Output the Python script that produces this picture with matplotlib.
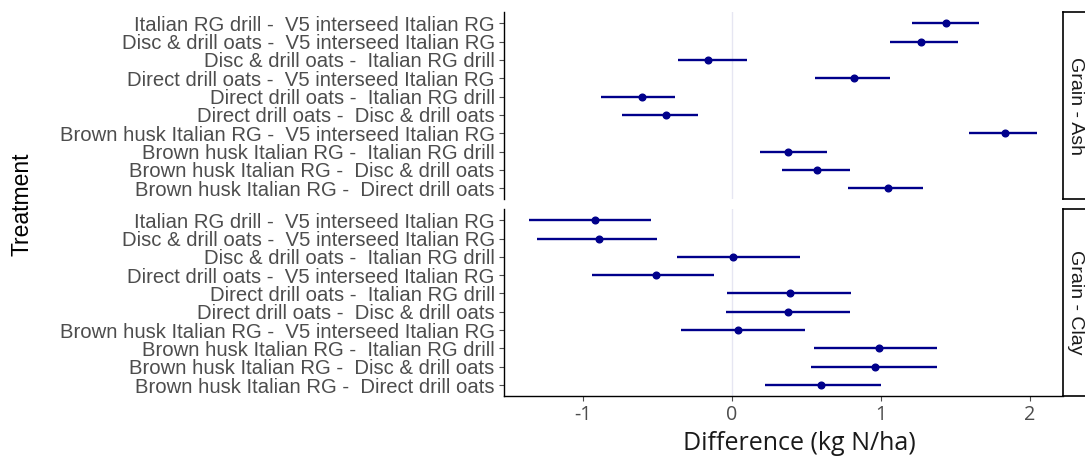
import matplotlib.pyplot as plt
import numpy as np

# treatment contrasts, top row first
contrasts = [
    'Italian RG drill -  V5 interseed Italian RG',
    'Disc & drill oats -  V5 interseed Italian RG',
    'Disc & drill oats -  Italian RG drill',
    'Direct drill oats -  V5 interseed Italian RG',
    'Direct drill oats -  Italian RG drill',
    'Direct drill oats -  Disc & drill oats',
    'Brown husk Italian RG -  V5 interseed Italian RG',
    'Brown husk Italian RG -  Italian RG drill',
    'Brown husk Italian RG -  Disc & drill oats',
    'Brown husk Italian RG -  Direct drill oats',
]

facets = ['Grain - Ash', 'Grain - Clay']

ash_diff = [1.44, 1.27, -0.16, 0.82, -0.60, -0.44, 1.83, 0.38, 0.57, 1.05]
ash_lower = [1.21, 1.06, -0.36, 0.56, -0.88, -0.74, 1.59, 0.19, 0.34, 0.78]
ash_upper = [1.66, 1.52, 0.10, 1.06, -0.38, -0.23, 2.05, 0.64, 0.79, 1.28]

clay_diff = [-0.92, -0.89, 0.01, -0.51, 0.39, 0.38, 0.04, 0.99, 0.96, 0.60]
clay_lower = [-1.36, -1.31, -0.37, -0.94, -0.03, -0.04, -0.34, 0.55, 0.53, 0.22]
clay_upper = [-0.54, -0.50, 0.46, -0.12, 0.80, 0.79, 0.49, 1.38, 1.38, 1.00]

x_ticks = [-1, 0, 1, 2]

W, H = 1085, 459
GREY = '#4D4D4D'
NAVY = '#00008B'


def px_rect(x0, y0, x1, y1):
    """pixel box (top-left origin) -> figure fraction"""
    return [x0 / W, 1 - y1 / H, (x1 - x0) / W, (y1 - y0) / H]


def main():
    fig = plt.figure(figsize=(W / 100, H / 100), dpi=100)

    panels = [
        (facets[0], ash_diff, ash_lower, ash_upper, (12.3, 199.3)),
        (facets[1], clay_diff, clay_lower, clay_upper, (209.3, 396.0)),
    ]
    x_left, x_right = 503.7, 1062.7

    # shared x range: data span plus 5% either side
    lo_all = min(ash_lower + clay_lower)
    hi_all = max(ash_upper + clay_upper)
    pad = 0.05 * (hi_all - lo_all)
    xlim = (lo_all - pad, hi_all + pad)

    ypos = np.arange(1, len(contrasts) + 1)

    for i, (name, est, lo, hi, (y0, y1)) in enumerate(panels):
        ax = fig.add_axes(px_rect(x_left, y0, x_right, y1))
        ax.axvline(0, color='#E6E6F2', lw=1.0, zorder=0)
        ax.hlines(ypos, lo, hi, color=NAVY, lw=1.7, zorder=2)
        ax.plot(est, ypos, 'o', color=NAVY, ms=4.8, zorder=3)

        ax.set_xlim(xlim)
        ax.set_ylim(len(contrasts) + 0.6, 0.4)
        ax.set_yticks(ypos)
        ax.set_yticklabels(contrasts, fontsize=14.6, color=GREY,
                           family=['Liberation Sans', 'DejaVu Sans'])
        ax.tick_params(axis='y', length=3.5, width=0.8, color=GREY, pad=3)

        for side in ['top', 'right']:
            ax.spines[side].set_visible(False)
        ax.spines['left'].set_linewidth(1.0)

        if i == 0:
            ax.spines['bottom'].set_visible(False)
            ax.set_xticks([])
        else:
            ax.set_xticks(x_ticks)
            ax.set_xticklabels([str(t) for t in x_ticks], fontsize=14.2,
                               color=GREY, family=['Open Sans', 'DejaVu Sans'])
            ax.tick_params(axis='x', length=3.5, width=0.8, color=GREY, pad=3)
            ax.spines['bottom'].set_linewidth(1.0)

        # facet strip on the right (runs past the figure edge)
        sax = fig.add_axes(px_rect(x_right, y0, x_right + 32, y1))
        sax.set_xticks([])
        sax.set_yticks([])
        for sp in sax.spines.values():
            sp.set_linewidth(1.2)
            sp.set_color('black')
        fig.text(1075.5 / W, 1 - (y0 + y1) / 2 / H, name, rotation=-90,
                 ha='center', va='center', fontsize=14, color='#1A1A1A',
                 family=['Liberation Sans', 'DejaVu Sans'])

    fig.text(22 / W, 1 - 204 / H, 'Treatment', rotation=90, ha='center',
             va='center', fontsize=16.5, color='black',
             family=['Liberation Sans', 'DejaVu Sans'])
    fig.text(799 / W, 1 - 443 / H, 'Difference (kg N/ha)', ha='center',
             va='center', fontsize=18, color='#1A1A1A',
             family=['Open Sans', 'DejaVu Sans'])

    fig.savefig('out.png', dpi=100, facecolor='white')


if __name__ == '__main__':
    main()
